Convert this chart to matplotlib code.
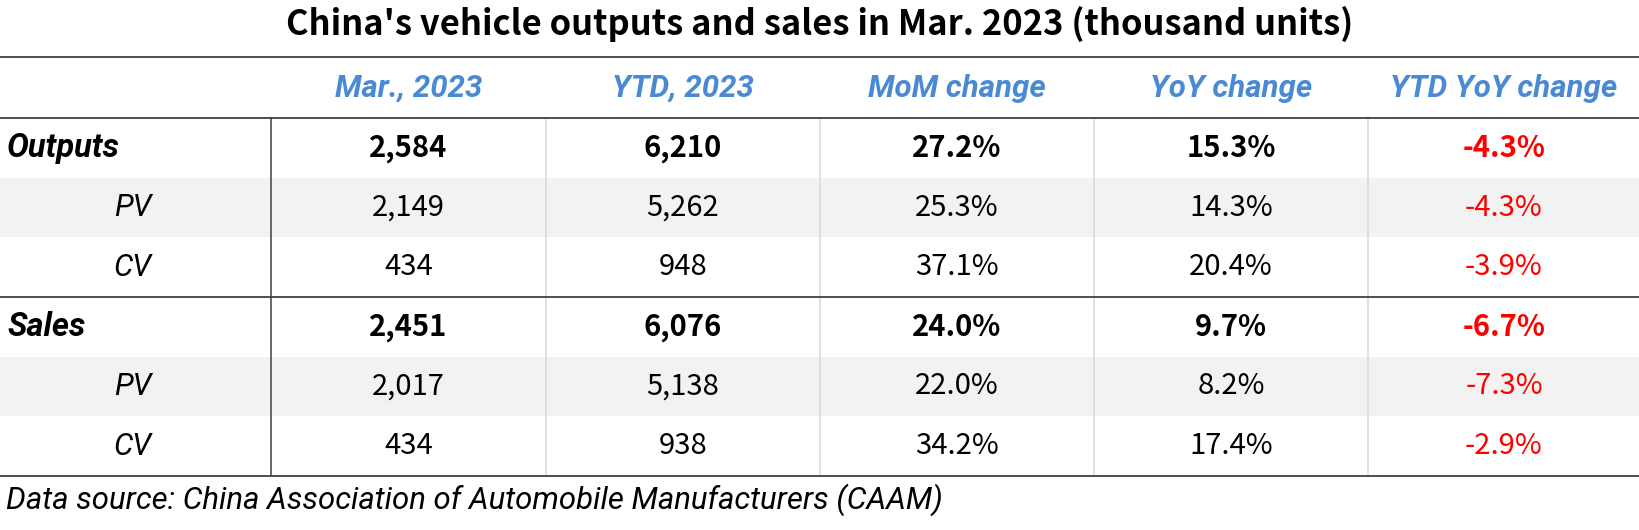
import matplotlib
matplotlib.use('Agg')
import matplotlib.pyplot as plt
from matplotlib.patches import Rectangle

# datos de la tabla (miles de unidades)
encabezados = ['Mar., 2023', 'YTD, 2023', 'MoM change', 'YoY change', 'YTD YoY change']
filas = ['Outputs', 'PV', 'CV', 'Sales', 'PV', 'CV']
es_total = [True, False, False, True, False, False]
mar_2023 = [2584, 2149, 434, 2451, 2017, 434]
ytd_2023 = [6210, 5262, 948, 6076, 5138, 938]
mom = [27.2, 25.3, 37.1, 24.0, 22.0, 34.2]
yoy = [15.3, 14.3, 20.4, 9.7, 8.2, 17.4]
ytd_yoy = [-4.3, -4.3, -3.9, -6.7, -7.3, -2.9]

titulo = "China's vehicle outputs and sales in Mar. 2023 (thousand units)"
fuente = 'Data source: China Association of Automobile Manufacturers (CAAM)'

AZUL = '#4a8ad4'
ROJO = '#ff0000'
GRIS_FONDO = '#f2f2f2'
LINEA_OSCURA = '#404040'
LINEA_CLARA = '#d9d9d9'

FUENTE_CJK = ['Noto Sans CJK SC', 'DejaVu Sans']
FUENTE_ITAL = ['Roboto', 'DejaVu Sans']

W, H = 1640, 530
bordes_x = [0, 271, 546, 820, 1094, 1368, 1640]
y_top, y_head = 57, 118
alto_fila = (476 - y_head) / len(filas)

columnas = [
    [f'{v:,}' for v in mar_2023],
    [f'{v:,}' for v in ytd_2023],
    [f'{v:.1f}%' for v in mom],
    [f'{v:.1f}%' for v in yoy],
    [f'{v:.1f}%' for v in ytd_yoy],
]

fig = plt.figure(figsize=(W / 100, H / 100), dpi=100)
ax = fig.add_axes([0, 0, 1, 1])
ax.set_xlim(0, W)
ax.set_ylim(H, 0)
ax.axis('off')

ax.text(W / 2, 24, titulo, ha='center', va='center', fontsize=24.8,
        fontweight='bold', family=FUENTE_CJK)

# filas sombreadas (PV)
for i, nombre in enumerate(filas):
    if nombre == 'PV':
        y0 = y_head + i * alto_fila
        ax.add_patch(Rectangle((0, y0), W, alto_fila, color=GRIS_FONDO, lw=0, zorder=0))

# encabezados
for j, enc in enumerate(encabezados):
    cx = (bordes_x[j + 1] + bordes_x[j + 2]) / 2
    ax.text(cx, (y_top + y_head) / 2 + 1, enc, ha='center', va='center', fontsize=22.5,
            fontweight='bold', style='italic', color=AZUL, family=FUENTE_ITAL)

# celdas
for i, nombre in enumerate(filas):
    cy = y_head + (i + 0.5) * alto_fila
    peso = 'bold' if es_total[i] else 'normal'
    if es_total[i]:
        ax.text(7, cy, nombre, ha='left', va='center', fontsize=23.5, fontweight='bold',
                style='italic', family=FUENTE_ITAL)
    else:
        ax.text((bordes_x[0] + bordes_x[1]) / 2 - 3, cy, nombre, ha='center', va='center',
                fontsize=22, style='italic', family=FUENTE_ITAL)
    for j, col in enumerate(columnas):
        cx = (bordes_x[j + 1] + bordes_x[j + 2]) / 2
        color = ROJO if j == len(columnas) - 1 else 'black'
        ax.text(cx, cy, col[i], ha='center', va='center', fontsize=21, fontweight=peso,
                color=color, family=FUENTE_CJK)

# lineas
y_fin = y_head + len(filas) * alto_fila
for y in [y_top, y_head, y_head + 3 * alto_fila, y_fin]:
    ax.plot([0, W], [y, y], color=LINEA_OSCURA, lw=1.3, zorder=3)
for k, x in enumerate(bordes_x[1:-1]):
    c = LINEA_OSCURA if k == 0 else LINEA_CLARA
    ax.plot([x, x], [y_head, y_fin], color=c, lw=1.1, zorder=2)

ax.text(6, 500, fuente, ha='left', va='center', fontsize=22.4, style='italic',
        family=FUENTE_ITAL)

plt.savefig('out.png', dpi=100)
plt.close()
